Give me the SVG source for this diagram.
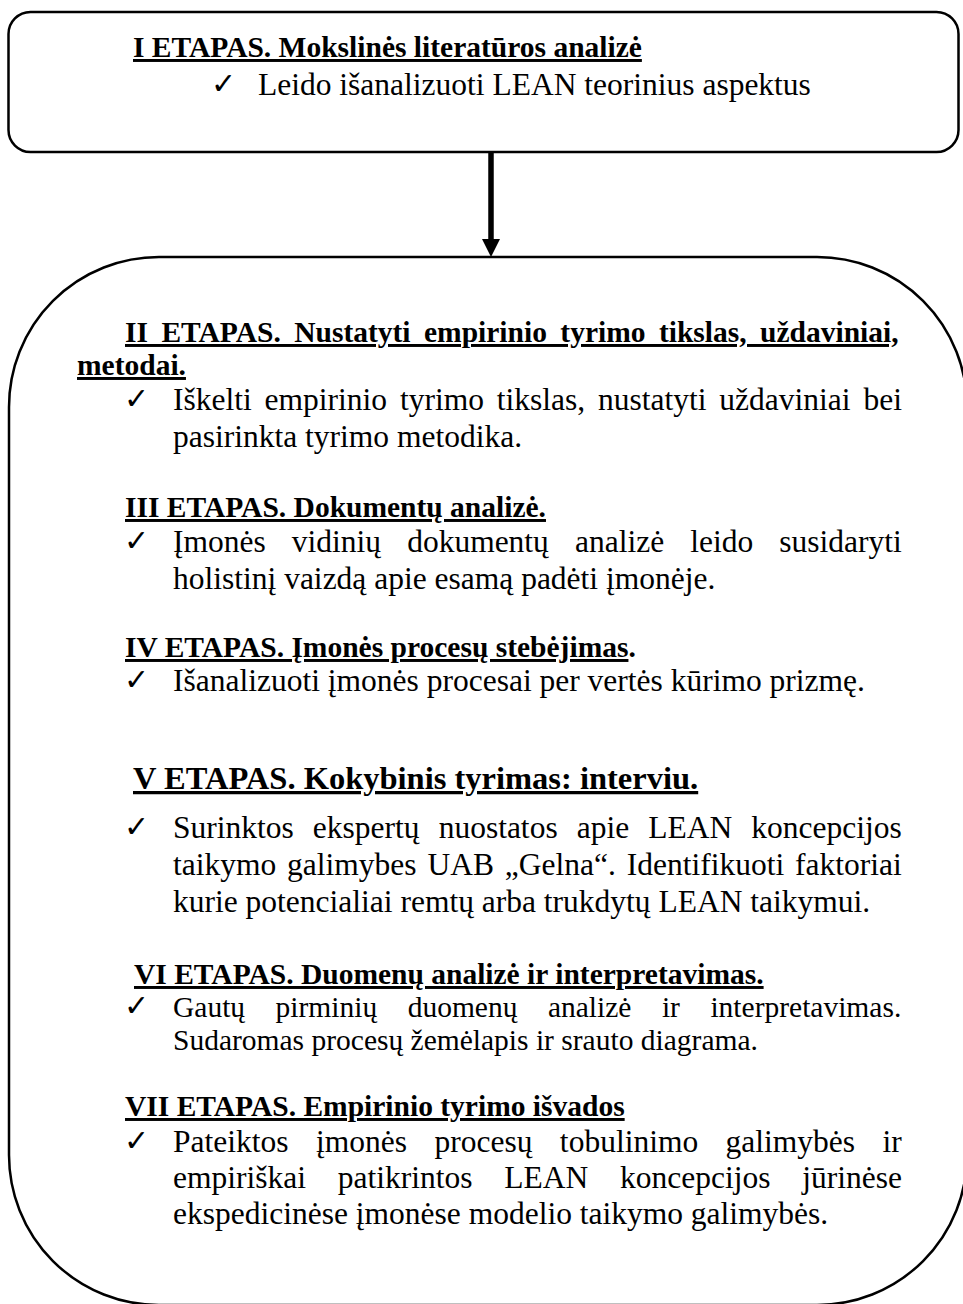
<svg xmlns="http://www.w3.org/2000/svg" width="963" height="1304" viewBox="0 0 963 1304">
  <style>
    .frame { fill: #ffffff; stroke: #000000; stroke-width: 2.5; }
    .h { font-family: "Liberation Serif", "Times New Roman", serif; font-weight: bold; font-size: 29.5px; fill: #000; }
    .u { text-decoration: underline; text-decoration-thickness: 2.5px; }
    .b { font-family: "Liberation Serif", "Times New Roman", serif; font-size: 31.5px; fill: #000; }
    .ck { font-family: "DejaVu Sans", sans-serif; font-size: 30px; fill: #000; }
  </style>
  <defs>
    <marker id="head" viewBox="0 0 18 18" markerWidth="18" markerHeight="18" markerUnits="userSpaceOnUse" refX="6" refY="9" orient="auto">
      <path d="M0,0 L18,9 L0,18 Z" fill="#000"/>
    </marker>
  </defs>
  <rect width="963" height="1304" fill="#ffffff"/>

  <!-- Stage I -->
  <g id="stage-1">
    <rect class="frame" x="8.5" y="12" width="950" height="140" rx="22" ry="22"/>
    <text class="h u" x="133" y="57">I ETAPAS. Mokslinės literatūros analizė</text>
    <text class="ck" x="211" y="94">✓</text>
    <text class="b" x="258" y="95">Leido išanalizuoti LEAN teorinius aspektus</text>
  </g>

  <!-- Connectors -->
  <g id="connectors">
    <line x1="491" y1="152" x2="491" y2="245" stroke="#000" stroke-width="5.5" marker-end="url(#head)"/>
  </g>

  <!-- Stages II–VII -->
  <g id="stages-2-7">
    <rect class="frame" x="9" y="257" width="958" height="1048" rx="150" ry="150"/>

    <!-- II -->
    <text class="h u" x="125" y="342" word-spacing="6.05">II ETAPAS. Nustatyti empirinio tyrimo tikslas, uždaviniai,</text>
    <text class="h u" x="77" y="375">metodai.</text>
    <text class="ck" x="124" y="409">✓</text>
    <text class="b" x="173" y="410" word-spacing="4.98">Iškelti empirinio tyrimo tikslas, nustatyti uždaviniai bei</text>
    <text class="b" x="173" y="447">pasirinkta tyrimo metodika.</text>

    <!-- III -->
    <text class="h u" x="125" y="517">III ETAPAS. Dokumentų analizė.</text>
    <text class="ck" x="124" y="551">✓</text>
    <text class="b" x="173" y="552" word-spacing="18.2">Įmonės vidinių dokumentų analizė leido susidaryti</text>
    <text class="b" x="173" y="589">holistinį vaizdą apie esamą padėti įmonėje.</text>

    <!-- IV -->
    <text class="h" x="125" y="657"><tspan class="u">IV ETAPAS. Įmonės procesų stebėjimas</tspan>.</text>
    <text class="ck" x="124" y="690">✓</text>
    <text class="b" x="173" y="691">Išanalizuoti įmonės procesai per vertės kūrimo prizmę.</text>

    <!-- V -->
    <text class="h u" x="133" y="789" style="font-size:32.5px">V ETAPAS. Kokybinis tyrimas: interviu.</text>
    <text class="ck" x="124" y="837">✓</text>
    <text class="b" x="173" y="838" word-spacing="11.2">Surinktos ekspertų nuostatos apie LEAN koncepcijos</text>
    <text class="b" x="173" y="875" word-spacing="3.0">taikymo galimybes UAB „Gelna“. Identifikuoti faktoriai</text>
    <text class="b" x="173" y="912">kurie potencialiai remtų arba trukdytų LEAN taikymui.</text>

    <!-- VI -->
    <text class="h u" x="134" y="984">VI ETAPAS. Duomenų analizė ir interpretavimas.</text>
    <text class="ck" x="124" y="1016">✓</text>
    <text class="b" x="173" y="1017" style="font-size:29.5px" word-spacing="23.1">Gautų pirminių duomenų analizė ir interpretavimas.</text>
    <text class="b" x="173" y="1050" style="font-size:29.5px">Sudaromas procesų žemėlapis ir srauto diagrama.</text>

    <!-- VII -->
    <text class="h u" x="125" y="1116">VII ETAPAS. Empirinio tyrimo išvados</text>
    <text class="ck" x="124" y="1151">✓</text>
    <text class="b" x="173" y="1152" word-spacing="19.6">Pateiktos įmonės procesų tobulinimo galimybės ir</text>
    <text class="b" x="173" y="1188" word-spacing="23.9">empiriškai patikrintos LEAN koncepcijos jūrinėse</text>
    <text class="b" x="173" y="1224">ekspedicinėse įmonėse modelio taikymo galimybės.</text>
  </g>
</svg>
